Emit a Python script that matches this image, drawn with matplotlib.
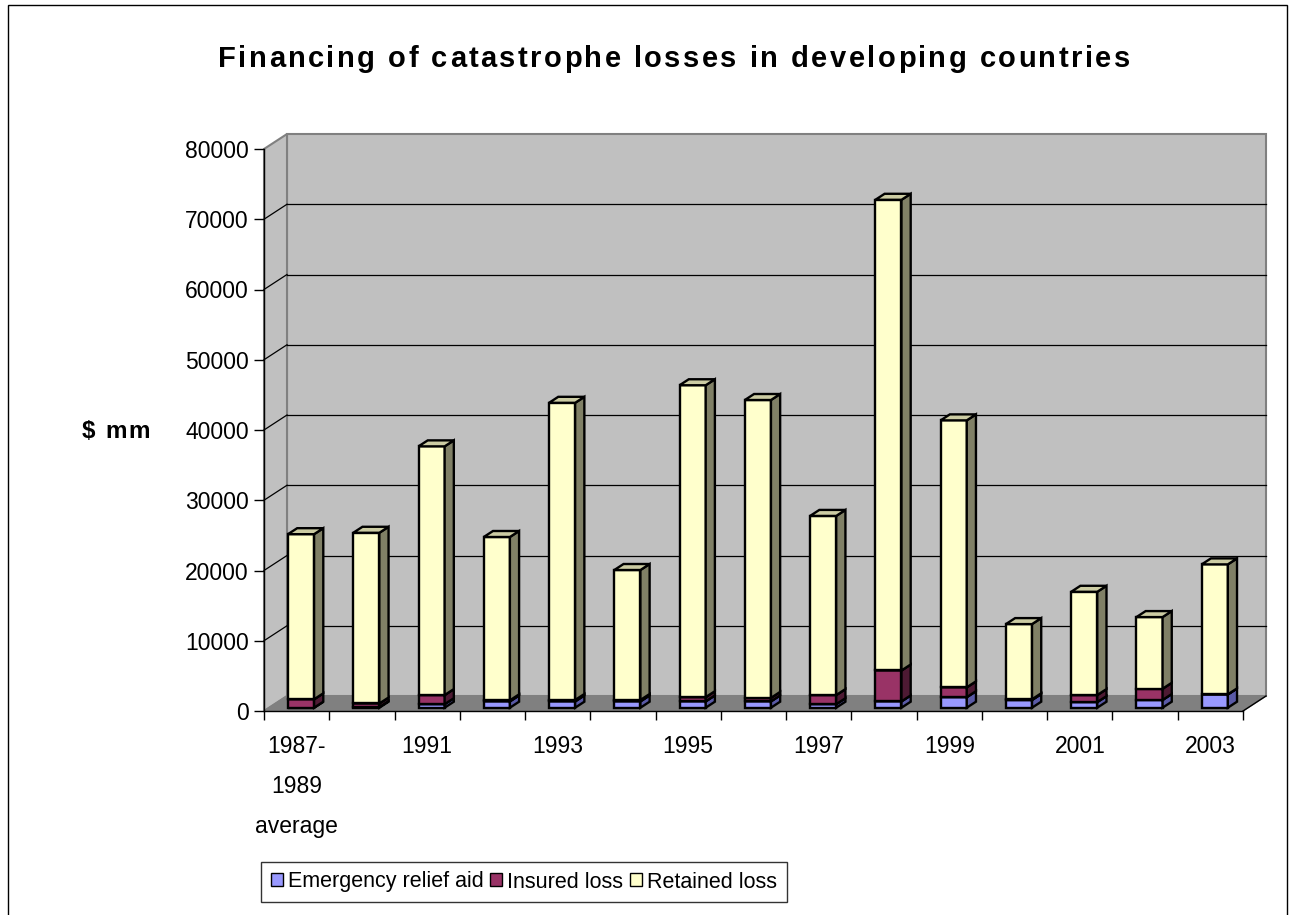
"""Stacked 3-D style column chart: how catastrophe losses in developing countries were financed."""

import matplotlib
matplotlib.use("Agg")
import matplotlib.pyplot as plt
from matplotlib.patches import Polygon, Rectangle, Patch

plt.rcParams["font.family"] = ["Liberation Sans", "DejaVu Sans"]

# $ mm per year
years = ["1987-1989 average", "1990", "1991", "1992", "1993", "1994", "1995", "1996",
         "1997", "1998", "1999", "2000", "2001", "2002", "2003"]
year_labels = ["1987-\n1989\naverage", "", "1991", "", "1993", "", "1995", "",
               "1997", "", "1999", "", "2001", "", "2003"]
emergency_aid = [0, 100, 500, 900, 900, 900, 900, 900, 500, 900, 1500, 1100, 800, 1100, 1900]
insured_loss = [1200, 500, 1300, 150, 200, 200, 600, 500, 1300, 4400, 1400, 100, 1000, 1600, 0]
retained_loss = [23500, 24300, 35400, 23250, 42300, 18500, 44400, 42400, 25500, 67000,
                 38000, 10700, 14700, 10200, 18500]
y_ticks = [0, 10000, 20000, 30000, 40000, 50000, 60000, 70000, 80000]

series_names = ["Emergency relief aid", "Insured loss", "Retained loss"]
# front, side, top shades
series_colors = [("#9999FF", "#5A5AA6", "#7A7ACC"),
                 ("#993366", "#4D1A33", "#7A2952"),
                 ("#FFFFCC", "#808066", "#CCCCA3")]

W, H, DPI = 1295, 915, 100
WALL_DX, WALL_DY = 23, 15          # depth of the walls in pixels
BAR_FRONT, BAR_BACK = 0.22, 0.62   # bar depth as a fraction of wall depth
BAR_LEFT, BAR_WIDTH = 0.29, 0.40   # within each category slot

fig = plt.figure(figsize=(W / DPI, H / DPI), dpi=DPI)
ax = fig.add_axes([264 / W, (H - 711) / H, 979 / W, 562 / H])
n = len(years)
ymax = y_ticks[-1]
ax.set_xlim(0, n)
ax.set_ylim(0, ymax)
ax.patch.set_visible(False)


def shift(depth):
    ox, oy = ax.transData.transform((0, 0))
    return ax.transData.inverted().transform((ox + depth * WALL_DX, oy + depth * WALL_DY))


def pt(x, y, depth):
    dx, dy = shift(depth)
    return (x + dx, y + dy)


def face(points, fc, ec, lw, z):
    ax.add_patch(Polygon(points, closed=True, facecolor=fc, edgecolor=ec, linewidth=lw,
                         zorder=z, clip_on=False, joinstyle="miter"))


def spaced_text(xc, baseline, s, size, total, weight="bold"):
    """Write s centred on xc (pixels) with letters spread to fill `total` pixels."""
    r = fig.canvas.get_renderer()
    probe = fig.text(0, 0, "", fontsize=size, fontweight=weight)

    def width(txt):
        probe.set_text(txt + "|")
        return probe.get_window_extent(r).width

    bar = width("")
    natural = width(s) - bar
    extra = (total - natural) / (len(s) - 1)
    left = xc - total / 2
    for k, ch in enumerate(s):
        if ch == " ":
            continue
        x = left + width(s[:k]) - bar + k * extra
        fig.text(x / W, 1 - baseline / H, ch, fontsize=size, fontweight=weight,
                 ha="left", va="baseline")
    probe.remove()


# walls and floor
face([pt(0, 0, 1), pt(n, 0, 1), pt(n, ymax, 1), pt(0, ymax, 1)], "#C0C0C0", "#808080", 1.5, 0)
face([pt(0, 0, 0), pt(0, ymax, 0), pt(0, ymax, 1), pt(0, 0, 1)], "#C0C0C0", "#808080", 1.5, 0)
face([pt(0, 0, 0), pt(n, 0, 0), pt(n, 0, 1), pt(0, 0, 1)], "#808080", "#808080", 1.0, 0.5)
ax.plot(*zip(pt(n, 0, 0), pt(n, 0, 1)), color="black", lw=1.0, zorder=0.6, clip_on=False)

for v in y_ticks[1:-1]:
    ax.plot(*zip(pt(0, v, 1), pt(n, v, 1)), color="black", lw=0.9, zorder=1, clip_on=False)
    ax.plot(*zip(pt(0, v, 0), pt(0, v, 1)), color="black", lw=0.9, zorder=1, clip_on=False)

# stacked columns
stack = [emergency_aid, insured_loss, retained_loss]
for i in range(n):
    x0 = i + BAR_LEFT
    x1 = x0 + BAR_WIDTH
    base = 0
    for values, (fc, sc, tc) in zip(stack, series_colors):
        top = base + values[i]
        z = 3 + i * 0.01
        face([pt(x0, base, BAR_FRONT), pt(x1, base, BAR_FRONT),
              pt(x1, top, BAR_FRONT), pt(x0, top, BAR_FRONT)], fc, "black", 1.7, z)
        face([pt(x1, base, BAR_FRONT), pt(x1, base, BAR_BACK),
              pt(x1, top, BAR_BACK), pt(x1, top, BAR_FRONT)], sc, "black", 1.7, z)
        face([pt(x0, top, BAR_FRONT), pt(x1, top, BAR_FRONT),
              pt(x1, top, BAR_BACK), pt(x0, top, BAR_BACK)], tc, "black", 1.7, z)
        base = top

# axes, ticks, labels
for side in ["top", "right"]:
    ax.spines[side].set_visible(False)
for side in ["left", "bottom"]:
    ax.spines[side].set_linewidth(1.0)
    ax.spines[side].set_zorder(5)

ax.set_yticks(y_ticks)
ax.set_yticklabels([str(v) for v in y_ticks])
ax.tick_params(axis="y", length=7, width=1.0, pad=4, labelsize=16.5)

ax.set_xticks(range(n + 1))
ax.set_xticklabels([])
ax.set_xticks([i + 0.5 for i in range(n)], minor=True)
ax.set_xticklabels(year_labels, minor=True, fontsize=16.5, linespacing=1.95)
ax.tick_params(axis="x", which="major", length=6.5, width=1.0)
ax.tick_params(axis="x", which="minor", length=0, pad=17)

spaced_text(116, 438, "$ mm", 17.5, 68)
spaced_text(674, 67, "Financing of catastrophe losses in developing countries", 21, 912)

handles = [Patch(facecolor=c[0], edgecolor="black", linewidth=1.0) for c in series_colors]
leg = fig.legend(handles, series_names, loc="center", bbox_to_anchor=(524 / W, 1 - 882 / H),
                 ncol=3, frameon=True, fancybox=False, fontsize=15.5, handlelength=0.55,
                 handleheight=0.55, handletextpad=0.25, columnspacing=0.3, borderpad=0.45,
                 borderaxespad=0)
leg.get_frame().set_edgecolor("black")
leg.get_frame().set_linewidth(1.0)

fig.patches.append(Rectangle((8 / W, -0.05), (1287 - 8) / W, 1.05 - 5 / H,
                             transform=fig.transFigure, fill=False, edgecolor="black",
                             linewidth=1.0))

fig.savefig("out.png", dpi=DPI)
